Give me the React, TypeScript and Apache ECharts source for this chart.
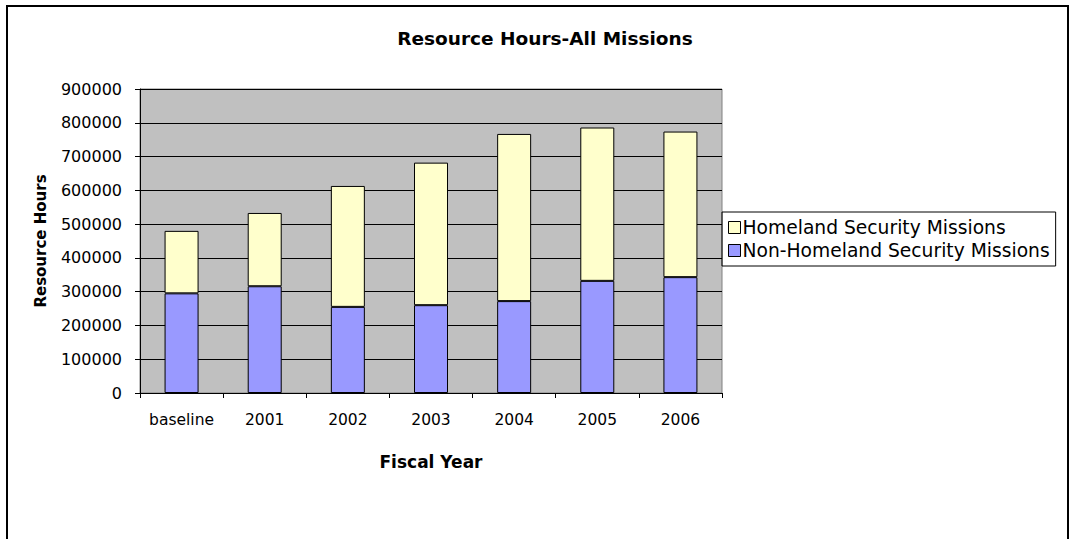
import React, { useEffect, useRef } from "react";
import * as echarts from "echarts";

const categories = ["baseline", "2001", "2002", "2003", "2004", "2005", "2006"];
const nonHomeland = [295000, 316000, 255000, 260000, 272000, 332000, 343000];
const homeland = [185000, 217000, 358000, 422000, 495000, 454000, 431000];
const seriesNames = ["Non-Homeland Security Missions", "Homeland Security Missions"];
const legendOrder = ["Homeland Security Missions", "Non-Homeland Security Missions"];

const FONT = "'DejaVu Sans', Arial, sans-serif";

export default function App() {
  const ref = useRef<HTMLDivElement>(null);
  useEffect(() => {
    if (!ref.current) return;
    const chart = echarts.init(ref.current, null, { renderer: "svg" });
    chart.setOption({
      animation: false,
      backgroundColor: "#ffffff",
      textStyle: { fontFamily: FONT },
      title: {
        text: "Resource Hours-All Missions",
        left: 540,
        textAlign: "center",
        top: 24,
        textStyle: { fontFamily: FONT, fontSize: 18.5, fontWeight: "bold", color: "#000" },
      },
      graphic: [
        {
          type: "rect",
          shape: { x: 7, y: 6, width: 1061, height: 560 },
          style: { fill: "none", stroke: "#000", lineWidth: 2 },
          silent: true,
        },
      ],
      legend: {
        orient: "vertical",
        left: 722,
        top: 212,
        data: legendOrder,
        borderColor: "#000",
        borderWidth: 1,
        padding: [6, 6, 6, 6],
        itemWidth: 12,
        itemHeight: 12,
        itemGap: 4,
        icon: "rect",
        itemStyle: { borderColor: "#000", borderWidth: 1 },
        textStyle: { fontFamily: FONT, fontSize: 18.7, color: "#000", padding: [0, 0, 0, -3] },
      },
      grid: {
        left: 140,
        right: 351,
        top: 89,
        bottom: 146,
        show: true,
        backgroundColor: "#c0c0c0",
        borderColor: "#808080",
        borderWidth: 1,
      },
      xAxis: {
        type: "category",
        data: categories,
        boundaryGap: true,
        name: "Fiscal Year",
        nameLocation: "middle",
        nameGap: 60,
        nameTextStyle: { fontFamily: FONT, fontSize: 17, fontWeight: "bold", color: "#000" },
        axisLine: { lineStyle: { color: "#000", width: 1 } },
        axisTick: { show: true, length: 5, alignWithLabel: false, interval: 0, lineStyle: { color: "#000" } },
        axisLabel: { fontFamily: FONT, fontSize: 15.5, color: "#000", margin: 19, interval: 0 },
      },
      yAxis: {
        type: "value",
        min: 0,
        max: 900000,
        interval: 100000,
        name: "Resource Hours",
        nameLocation: "middle",
        nameGap: 92,
        nameRotate: 90,
        nameTextStyle: { fontFamily: FONT, fontSize: 15, fontWeight: "bold", color: "#000" },
        axisLine: { show: true, lineStyle: { color: "#000", width: 1 } },
        axisTick: { show: true, length: 5, lineStyle: { color: "#000" } },
        axisLabel: {
          fontFamily: FONT,
          fontSize: 16,
          color: "#000",
          margin: 18,
          formatter: (v: number) => String(v),
        },
        splitLine: { show: true, lineStyle: { color: "#000", width: 1 } },
      },
      series: [
        {
          name: seriesNames[0],
          type: "bar",
          stack: "total",
          data: nonHomeland,
          barWidth: 34,
          itemStyle: { color: "#9999ff", borderColor: "#000", borderWidth: 1 },
        },
        {
          name: seriesNames[1],
          type: "bar",
          stack: "total",
          data: homeland,
          barWidth: 34,
          itemStyle: { color: "#ffffcc", borderColor: "#000", borderWidth: 1 },
        },
      ],
    });
    return () => chart.dispose();
  }, []);
  return (
    <div
      ref={ref}
      style={{ position: "absolute", left: 0, top: 0, width: 1073, height: 539 }}
    />
  );
}
